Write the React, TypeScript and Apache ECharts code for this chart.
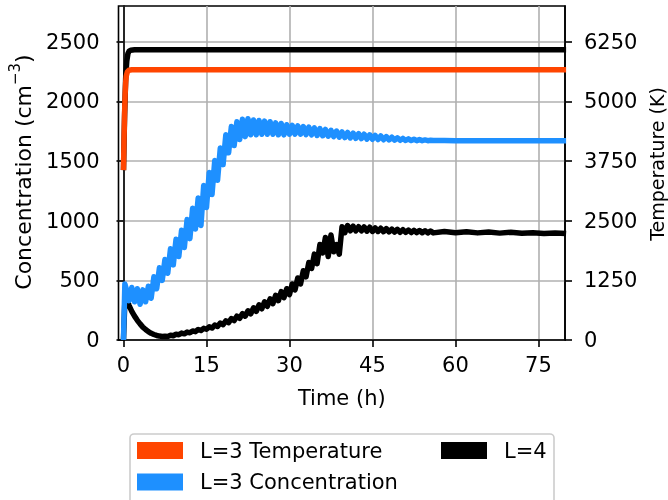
import React, { useEffect, useRef } from "react";
import * as echarts from "echarts";

const FONT = "DejaVu Sans";

// shared time base (hours) for the concentration series
const timeH = [
  0, 0.25, 0.5,
  1, 1.5, 2, 2.5, 3, 3.5, 4, 4.5, 5, 5.5, 6, 6.5, 7, 7.5, 8, 8.5, 9, 9.5, 10, 10.5,
  11, 11.5, 12, 12.5, 13, 13.5, 14, 14.5, 15, 15.5, 16, 16.5, 17, 17.5, 18, 18.5, 19, 19.5, 20, 20.5,
  21, 21.5, 22, 22.5, 23, 23.5, 24, 24.5, 25, 25.5, 26, 26.5, 27, 27.5, 28, 28.5, 29, 29.5, 30, 30.5,
  31, 31.5, 32, 32.5, 33, 33.5, 34, 34.5, 35, 35.5, 36, 36.5, 37, 37.5, 38, 38.5, 39, 39.5, 40, 40.5,
  41, 41.5, 42, 42.5, 43, 43.5, 44, 44.5, 45, 45.5, 46, 46.5, 47, 47.5, 48, 48.5, 49, 49.5, 50, 50.5,
  51, 51.5, 52, 52.5, 53, 53.5, 54, 54.5, 55, 55.5, 56,
  58, 60, 62, 64, 66, 68, 70, 72, 74, 76, 78, 80,
];

// L=3 concentration (cm^-3), left axis
const l3Conc = [
  0, 470, 430,
  330, 440, 320, 430, 300, 420, 320, 450, 350, 530, 430, 605, 500, 675, 560, 765, 630, 845, 700, 920,
  775, 1010, 850, 1105, 930, 1190, 960, 1295, 1110, 1405, 1220, 1505, 1340, 1610, 1470, 1720, 1570, 1790, 1630, 1830,
  1680, 1850, 1705, 1855, 1720, 1845, 1720, 1840, 1725, 1835, 1725, 1830, 1725, 1820, 1720, 1815, 1720, 1805, 1725, 1800,
  1725, 1795, 1725, 1790, 1722, 1785, 1720, 1778, 1715, 1772, 1712, 1765, 1708, 1758, 1705, 1752, 1700, 1745, 1697, 1740,
  1694, 1735, 1690, 1730, 1688, 1725, 1685, 1720, 1683, 1715, 1681, 1710, 1679, 1705, 1677, 1700, 1675, 1695, 1674, 1690,
  1673, 1686, 1672, 1683, 1671, 1680, 1671, 1677, 1671, 1674, 1672,
  1672, 1671, 1671, 1670, 1670, 1670, 1670, 1670, 1670, 1670, 1670, 1670,
];

// L=4 concentration (cm^-3), left axis
const l4Conc = [
  0, 330, 360,
  290, 240, 200, 165, 135, 108, 88, 70, 56, 46, 38, 33, 30, 32, 30, 40, 36, 48, 44, 58,
  52, 66, 60, 76, 70, 88, 80, 98, 90, 110, 100, 125, 114, 142, 128, 160, 146, 180, 162, 200,
  182, 222, 200, 245, 220, 270, 240, 295, 262, 320, 282, 345, 305, 375, 330, 405, 355, 430, 380, 470,
  420, 520, 470, 580, 530, 650, 600, 720, 640, 800, 730, 860, 700, 880, 740, 800, 720, 950, 900, 960,
  915, 955, 915, 950, 915, 948, 912, 945, 910, 940, 910, 937, 908, 934, 906, 930, 905, 928, 903, 925,
  902, 922, 901, 920, 900, 918, 899, 916, 898, 914, 898,
  910, 900, 908, 898, 905, 896, 903, 894, 900, 893, 898, 892,
];

// temperatures (K), right axis
const l3TempTime = [0, 0.1, 0.2, 0.3, 0.4, 0.5, 0.7, 1, 1.5, 80];
const l3Temp = [3560, 4200, 4750, 5150, 5400, 5530, 5620, 5655, 5663, 5663];
const l4TempTime = [0, 0.2, 0.4, 0.6, 0.8, 1, 1.3, 2, 80];
const l4Temp = [3560, 4700, 5500, 5850, 6000, 6050, 6075, 6082, 6082];

const xTicks = [0, 15, 30, 45, 60, 75];
const concTicks = [0, 500, 1000, 1500, 2000, 2500];
const tempTicks = [0, 1250, 2500, 3750, 5000, 6250];

const pairs = (xs: number[], ys: number[]) => xs.map((x, i) => [x, ys[i]]);

const RED = "#ff4500";
const BLUE = "#1e90ff";
const BLACK = "#000000";

export default function App() {
  const ref = useRef<HTMLDivElement>(null);

  useEffect(() => {
    if (!ref.current) return;
    const chart = echarts.init(ref.current, undefined, { renderer: "svg" });
    const labelStyle = { fontSize: 21, color: "#000", fontFamily: FONT };
    const plain = (v: number) => String(v);
    const lineSeries = (name: string, data: number[][], color: string, yAxisIndex: number) => ({
      name,
      type: "line",
      xAxisIndex: 0,
      yAxisIndex,
      data,
      showSymbol: false,
      symbol: "none",
      silent: true,
      emphasis: { disabled: true },
      lineStyle: { color, width: 5.5, join: "round", cap: "butt" },
      itemStyle: { color },
    });

    chart.setOption({
      animation: false,
      grid: {
        left: 118.5,
        right: 103,
        top: 6,
        bottom: 160,
        show: true,
        borderColor: "#000",
        borderWidth: 1.6,
        backgroundColor: "transparent",
      },
      xAxis: {
        type: "value",
        min: -0.9,
        max: 79.8,
        axisLine: { show: true, lineStyle: { color: "#000", width: 1.6 } },
        axisTick: { show: true, inside: false, length: 7, lineStyle: { color: "#000", width: 1.6 }, customValues: xTicks },
        axisLabel: { ...labelStyle, margin: 14, customValues: xTicks, formatter: plain },
        splitLine: { show: true, lineStyle: { color: "#b0b0b0", width: 1.6 } },
      },
      yAxis: [
        {
          type: "value",
          min: 0,
          max: 2800,
          position: "left",
          axisLine: { show: true, lineStyle: { color: "#000", width: 1.6 } },
          axisTick: { show: true, length: 7, lineStyle: { color: "#000", width: 1.6 }, customValues: concTicks },
          axisLabel: { ...labelStyle, margin: 19, customValues: concTicks, formatter: plain },
          splitLine: { show: true, lineStyle: { color: "#b0b0b0", width: 1.6 } },
        },
        {
          type: "value",
          min: 0,
          max: 7000,
          position: "right",
          axisLine: { show: true, lineStyle: { color: "#000", width: 1.6 } },
          axisTick: { show: true, length: 7, lineStyle: { color: "#000", width: 1.6 }, customValues: tempTicks },
          axisLabel: { ...labelStyle, margin: 19, customValues: tempTicks, formatter: plain },
          splitLine: { show: false },
        },
      ],
      legend: [
        {
          left: 137,
          top: 440,
          padding: 0,
          orient: "vertical",
          icon: "rect",
          itemWidth: 46,
          itemHeight: 17,
          itemGap: 10.5,
          height: 60,
          selectedMode: false,
          data: ["L=3 Temperature", "L=3 Concentration"],
          textStyle: { ...labelStyle, padding: [0, 0, 0, 12] },
          itemStyle: { borderWidth: 0 },
        },
        {
          left: 441,
          top: 440,
          padding: 0,
          orient: "vertical",
          icon: "rect",
          itemWidth: 46,
          itemHeight: 17,
          selectedMode: false,
          data: ["L=4"],
          textStyle: { ...labelStyle, padding: [0, 0, 0, 12] },
          itemStyle: { borderWidth: 0 },
        },
      ],
      graphic: [
        {
          type: "rect",
          z: -10,
          silent: true,
          shape: { x: 130, y: 434, width: 424, height: 90, r: 4 },
          style: { fill: "#ffffff", stroke: "#cccccc", lineWidth: 1.6 },
        },
        {
          type: "text",
          x: 341.75,
          y: 398,
          silent: true,
          style: {
            text: "Time (h)",
            fontSize: 21,
            fontFamily: FONT,
            fill: "#000",
            align: "center",
            verticalAlign: "middle",
          },
        },
        {
          type: "text",
          x: 23,
          y: 172,
          rotation: Math.PI / 2,
          silent: true,
          style: {
            text: "{n|Concentration (cm}{s|−3}{n|)}",
            fill: "#000",
            align: "center",
            verticalAlign: "middle",
            rich: {
              n: { fontSize: 22, fontFamily: FONT, fill: "#000", lineHeight: 32, verticalAlign: "middle" },
              s: { fontSize: 15, fontFamily: FONT, fill: "#000", lineHeight: 15, verticalAlign: "top" },
            },
          },
        },
        {
          type: "text",
          x: 657,
          y: 164,
          rotation: Math.PI / 2,
          silent: true,
          style: {
            text: "Temperature (K)",
            fontSize: 19,
            fontFamily: FONT,
            fill: "#000",
            align: "center",
            verticalAlign: "middle",
          },
        },
      ],
      series: [
        lineSeries("L=4", pairs(timeH, l4Conc), BLACK, 0),
        lineSeries("L=4", pairs(l4TempTime, l4Temp), BLACK, 1),
        lineSeries("L=3 Concentration", pairs(timeH, l3Conc), BLUE, 0),
        lineSeries("L=3 Temperature", pairs(l3TempTime, l3Temp), RED, 1),
      ],
    });
    return () => chart.dispose();
  }, []);

  return (
    <div
      ref={ref}
      style={{ position: "fixed", left: 0, top: 0, width: 668, height: 500 }}
    />
  );
}
